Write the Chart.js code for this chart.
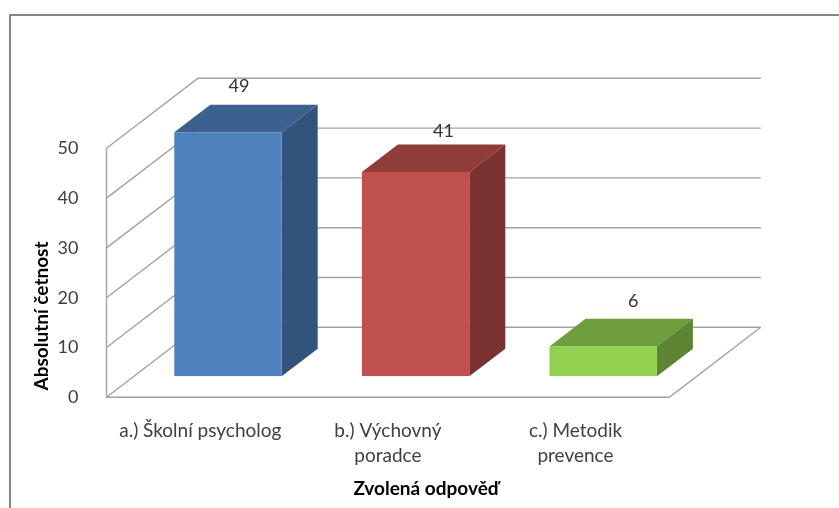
<!DOCTYPE html>
<html>
<head>
<meta charset="utf-8">
<style>html,body{margin:0;padding:0;background:#fff}canvas{display:block}</style>
<script src="https://cdn.jsdelivr.net/npm/chart.js@4"></script>
</head>
<body>
<canvas id="c" width="839" height="508"></canvas>
<script>
const categories = [['a.) Školní psycholog'], ['b.) Výchovný', 'poradce'], ['c.) Metodik', 'prevence']];
const values = [49, 41, 6];
const yAxisTitle = 'Absolutní četnost';
const xAxisTitle = 'Zvolená odpověď';
const frontColors = ['#4F81BD', '#C0504D', '#92D050'];
const topColors = ['#3D618F', '#8F3C3A', '#6E9D3D'];
const sideColors = ['#32547C', '#7A3230', '#5C8433'];

const FONT = 'Lato, Carlito, sans-serif';
const WALL = {dx: 91.5, dy: -70};
const SHIFT = {dx: 27.7, dy: -21};
const DEPTH = {dx: 36, dy: -27.6};
const LABEL_NUDGE = [{x: -17, y: -46.5}, {x: 0, y: -41}, {x: 2, y: -45.5}];
const GRID = '#A2A2A2';

const box3d = {
  id: 'box3d',
  beforeDraw(chart) {
    const c = chart.ctx;
    c.save();
    c.fillStyle = '#fff';
    c.fillRect(0, 0, chart.width, chart.height);
    c.strokeStyle = '#868686';
    c.lineWidth = 2;
    c.beginPath();
    c.moveTo(10, chart.height);
    c.lineTo(10, 15);
    c.lineTo(chart.width, 15);
    c.stroke();
    c.restore();
  },
  beforeDatasetsDraw(chart) {
    const c = chart.ctx, y = chart.scales.y, a = chart.chartArea;
    c.save();
    c.strokeStyle = GRID;
    c.lineWidth = 1.4;
    c.beginPath();
    y.ticks.forEach(t => {
      const p = y.getPixelForValue(t.value);
      c.moveTo(a.left, p);
      c.lineTo(a.left + WALL.dx, p + WALL.dy);
      c.lineTo(a.right + WALL.dx, p + WALL.dy);
    });
    c.moveTo(a.left, a.top);
    c.lineTo(a.left, a.bottom);
    c.lineTo(a.right, a.bottom);
    c.lineTo(a.right + WALL.dx, a.bottom + WALL.dy);
    c.stroke();
    c.restore();
  },
  beforeDatasetDraw(chart, args) {
    const c = chart.ctx;
    c.save();
    c.translate(SHIFT.dx, SHIFT.dy);
    chart.getDatasetMeta(args.index).data.forEach((bar, i) => {
      const p = bar.getProps(['x', 'y', 'base', 'width'], true);
      const l = p.x - p.width / 2, r = p.x + p.width / 2;
      c.fillStyle = topColors[i];
      c.beginPath();
      c.moveTo(l, p.y);
      c.lineTo(l + DEPTH.dx, p.y + DEPTH.dy);
      c.lineTo(r + DEPTH.dx, p.y + DEPTH.dy);
      c.lineTo(r, p.y);
      c.closePath();
      c.fill();
      c.fillStyle = sideColors[i];
      c.beginPath();
      c.moveTo(r, p.y);
      c.lineTo(r + DEPTH.dx, p.y + DEPTH.dy);
      c.lineTo(r + DEPTH.dx, p.base + DEPTH.dy);
      c.lineTo(r, p.base);
      c.closePath();
      c.fill();
    });
  },
  afterDatasetDraw(chart) {
    chart.ctx.restore();
  },
  afterDatasetsDraw(chart, args) {
    const c = chart.ctx;
    c.save();
    c.font = '18px ' + FONT;
    c.fillStyle = '#333333';
    c.textAlign = 'center';
    c.textBaseline = 'middle';
    chart.getDatasetMeta(0).data.forEach((bar, i) => {
      const p = bar.getProps(['x', 'y'], true);
      c.fillText(String(values[i]),
        p.x + SHIFT.dx + DEPTH.dx / 2 * 1.55 + LABEL_NUDGE[i].x,
        p.y + SHIFT.dy + LABEL_NUDGE[i].y);
    });
    c.font = 'bold 19px ' + FONT;
    c.fillStyle = '#000';
    c.fillText(xAxisTitle, 426, 489);
    c.translate(42, 316);
    c.rotate(-Math.PI / 2);
    c.fillText(yAxisTitle, 0, 0);
    c.restore();
  }
};

new Chart(document.getElementById('c'), {
  type: 'bar',
  data: {
    labels: categories,
    datasets: [{data: values, backgroundColor: frontColors, borderWidth: 0,
      barPercentage: 0.5725, categoryPercentage: 1}]
  },
  plugins: [box3d],
  options: {
    responsive: false,
    animation: false,
    devicePixelRatio: 1,
    layout: {padding: {left: 0, top: 148.3, right: 169.7, bottom: 0}},
    plugins: {legend: {display: false}, title: {display: false}, tooltip: {enabled: false}},
    scales: {
      x: {
        grid: {display: false},
        border: {display: false},
        ticks: {
          padding: 13, maxRotation: 0, minRotation: 0, autoSkip: false,
          color: '#404040',
          font: {family: FONT, size: 19, lineHeight: '25px'}
        },
        afterFit(s) { s.height = 110.7; }
      },
      y: {
        min: 0, max: 50,
        grid: {display: false},
        border: {display: false},
        ticks: {
          stepSize: 10, padding: 20,
          color: '#404040',
          font: {family: FONT, size: 18}
        },
        afterFit(s) { s.width = 106.5; }
      }
    }
  }
});
</script>
</body>
</html>
